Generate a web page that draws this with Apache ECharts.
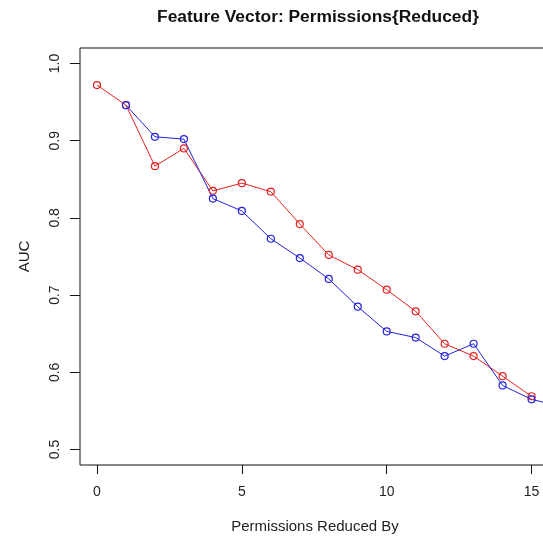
<!DOCTYPE html>
<html>
<head>
<meta charset="utf-8">
<script src="https://cdn.jsdelivr.net/npm/echarts@6/dist/echarts.min.js"></script>
<style>html,body{margin:0;padding:0;background:#fff}#c{width:543px;height:542px}</style>
</head>
<body>
<div id="c"></div>
<script>
var xValues = [0, 1, 2, 3, 4, 5, 6, 7, 8, 9, 10, 11, 12, 13, 14, 15, 16];
var redAUC = [0.972, 0.946, 0.867, 0.890, 0.835, 0.845, 0.834, 0.792, 0.752, 0.733, 0.707, 0.679, 0.637, 0.621, 0.595, 0.569];
var blueAUC = [null, 0.946, 0.905, 0.902, 0.825, 0.809, 0.773, 0.748, 0.721, 0.685, 0.653, 0.645, 0.621, 0.637, 0.583, 0.565, 0.556];
var xTicks = [0, 5, 10, 15];
var yTicks = [0.5, 0.6, 0.7, 0.8, 0.9, 1.0];

function pairs(vals) {
  var out = [];
  for (var i = 0; i < vals.length; i++) {
    if (vals[i] !== null) out.push([xValues[i], vals[i]]);
  }
  return out;
}

// main plot frame geometry (R-style padded ranges)
var PL = 80, PT = 48, PW = 500, PH = 417;
var XMIN = -0.587, XMAX = 16.672, YMIN = 0.48, YMAX = 1.02;
function px(v) { return PL + (v - XMIN) / (XMAX - XMIN) * PW; }
function py(v) { return PT + (YMAX - v) / (YMAX - YMIN) * PH; }
var xt0 = xTicks[0], xt1 = xTicks[xTicks.length - 1];
var yt0 = yTicks[0], yt1 = yTicks[yTicks.length - 1];

var font = 'Liberation Sans, Arial, sans-serif';
var lineCol = '#111';
var chart = echarts.init(document.getElementById('c'), null, {renderer: 'canvas'});
chart.setOption({
  animation: false,
  backgroundColor: '#fff',
  title: {
    text: 'Feature Vector: Permissions{Reduced}',
    left: 313, top: 4, textAlign: 'center',
    textStyle: {fontFamily: font, fontSize: 17.4, fontWeight: 'bold', color: '#111'}
  },
  grid: [
    { // main plot
      left: PL, top: PT, width: PW, height: PH,
      outerBoundsMode: 'none', containLabel: false,
      show: true, borderColor: lineCol, borderWidth: 1, backgroundColor: 'transparent'
    },
    { // y tick strip, left of frame
      left: PL - 10, width: 10, top: py(yt1), height: py(yt0) - py(yt1),
      outerBoundsMode: 'none', containLabel: false, show: false
    },
    { // x tick strip, below frame
      left: px(xt0), width: px(xt1) - px(xt0), top: PT + PH, height: 9,
      outerBoundsMode: 'none', containLabel: false, show: false
    }
  ],
  xAxis: [{
    gridIndex: 0, type: 'value', min: XMIN, max: XMAX,
    name: 'Permissions Reduced By', nameLocation: 'middle', nameGap: 54,
    nameTextStyle: {fontFamily: font, fontSize: 15, color: '#222', padding: [0, 30, 0, 0]},
    axisLine: {show: false}, axisTick: {show: false}, axisLabel: {show: false}, splitLine: {show: false}
  }, {
    gridIndex: 1, type: 'value', show: false, min: 0, max: 1
  }, {
    gridIndex: 2, type: 'value', position: 'bottom',
    min: xt0, max: xt1, interval: xTicks[1] - xTicks[0],
    axisLine: {show: false}, axisTick: {show: false},
    axisLabel: {show: true, margin: 11, fontFamily: font, fontSize: 14, color: '#222'},
    splitLine: {show: true, lineStyle: {color: lineCol, width: 1, type: 'solid'}}
  }],
  yAxis: [{
    gridIndex: 0, type: 'value', min: YMIN, max: YMAX,
    name: 'AUC', nameLocation: 'middle', nameGap: 48,
    nameTextStyle: {fontFamily: font, fontSize: 15, color: '#222'},
    axisLine: {show: false}, axisTick: {show: false}, axisLabel: {show: false}, splitLine: {show: false}
  }, {
    gridIndex: 1, type: 'value', position: 'left',
    min: yt0, max: yt1, interval: Math.round((yTicks[1] - yTicks[0]) * 10) / 10,
    axisLine: {show: false}, axisTick: {show: false},
    axisLabel: {
      show: true, rotate: 90, margin: 8, fontFamily: font, fontSize: 14, color: '#222',
      formatter: function (v) { return v.toFixed(1); }
    },
    splitLine: {show: true, lineStyle: {color: lineCol, width: 1, type: 'solid'}}
  }, {
    gridIndex: 2, type: 'value', show: false, min: 0, max: 1
  }],
  series: [
    {
      type: 'line', data: pairs(redAUC), xAxisIndex: 0, yAxisIndex: 0,
      symbol: 'circle', symbolSize: 7,
      lineStyle: {color: '#e52222', width: 1},
      itemStyle: {color: 'transparent', borderColor: '#e52222', borderWidth: 1.2}
    },
    {
      type: 'line', data: pairs(blueAUC), xAxisIndex: 0, yAxisIndex: 0,
      symbol: 'circle', symbolSize: 7,
      lineStyle: {color: '#2222dd', width: 1},
      itemStyle: {color: 'transparent', borderColor: '#2222dd', borderWidth: 1.2}
    }
  ]
});
</script>
</body>
</html>
